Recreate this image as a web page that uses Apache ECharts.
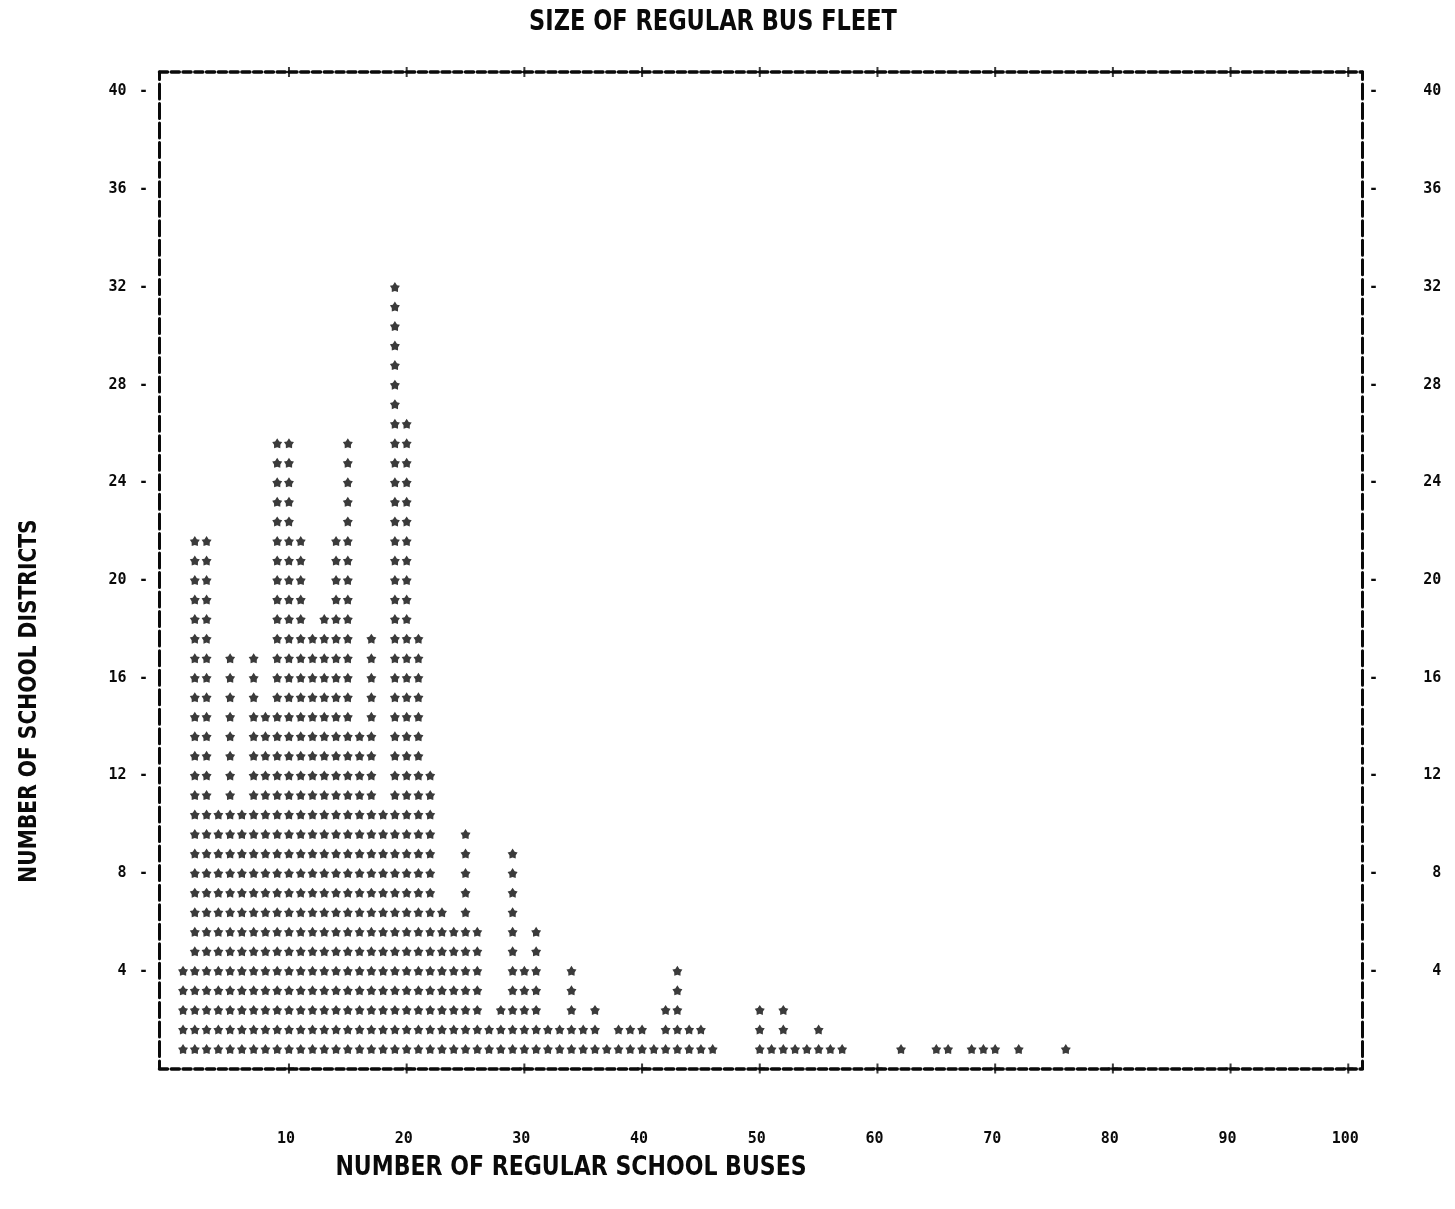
<!DOCTYPE html>
<html>
<head>
<meta charset="utf-8">
<script src="https://cdn.jsdelivr.net/npm/echarts@6/dist/echarts.min.js"></script>
<style>html,body{margin:0;padding:0;background:#fff}#chart{width:1455px;height:1209px}</style>
</head>
<body>
<div id="chart"></div>
<script>
// Number of regular school buses (x) for each printed column
const busCounts = [
  1,2,3,4,5,6,7,8,9,10,11,12,13,14,15,16,17,18,19,20,
  21,22,23,24,25,26,27,28,29,30,31,32,33,34,35,36,37,38,39,40,
  41,42,43,44,45,46,50,51,52,53,54,55,56,57,62,65,66,68,69,70,72,76
];
// Number of printed asterisk rows in each column (one row = 0.8 districts on the axis)
const starRows = [
  5,27,27,13,21,13,21,18,32,32,27,22,23,27,32,17,22,13,40,33,
  22,15,8,7,12,7,2,3,11,5,7,2,2,5,2,3,1,2,2,2,
  1,3,5,2,2,1,3,1,3,1,1,2,1,1,1,1,1,1,1,1,1,1
];
const ROW_VALUE = 0.8;
const xTickLabels = [10,20,30,40,50,60,70,80,90,100];
const yTickLabels = [4,8,12,16,20,24,28,32,36,40];

const Y_MAX = 40.8;
const X_MIN = -1, X_MAX = 101.2;
const INK = '#0a0a0a';
const MONO = "'DejaVu Sans Mono','Liberation Mono',monospace";
const NARROW = "'Liberation Sans Narrow','DejaVu Sans Condensed','Liberation Sans',sans-serif";

const stars = [];
busCounts.forEach((b, i) => {
  for (let k = 1; k <= starRows[i]; k++) stars.push([b, k * ROW_VALUE]);
});
const plusMarks = [];
xTickLabels.forEach(v => { plusMarks.push([v, 0]); plusMarks.push([v, Y_MAX]); });

const STAR = 'path://M0,-10 L3.9,-4.2 L9.5,-3.1 L6,2 L5.9,8.1 L0,6.2 L-5.9,8.1 L-6,2 L-9.5,-3.1 L-3.9,-4.2 Z';
const PLUS = 'path://M-2,-10 L2,-10 L2,-2 L10,-2 L10,2 L2,2 L2,10 L-2,10 L-2,2 L-10,2 L-10,-2 L-2,-2 Z';

function yLabelVal(v) {
  const r = Math.round(v / ROW_VALUE);
  const lab = Math.round(v);
  return (r > 0 && r % 5 === 0 && yTickLabels.indexOf(lab) >= 0) ? lab : null;
}

const labelFont = { fontFamily: MONO, fontWeight: 'bold', fontSize: 15, color: INK };
const borderX = { color: INK, width: 3.5, type: [8, 3.77] };
const borderY = { color: INK, width: 3, type: [15, 4.54], dashOffset: 7.5 };

const chart = echarts.init(document.getElementById('chart'));
chart.setOption({
  animation: false,
  backgroundColor: '#ffffff',
  grid: { left: 159.5, right: 92.6, top: 72, bottom: 140.5 },
  xAxis: [{
    type: 'value', min: X_MIN, max: X_MAX, interval: 1,
    splitLine: { show: false },
    axisTick: { show: false },
    axisLine: { show: true, onZero: false, lineStyle: borderX },
    axisLabel: Object.assign({
      margin: 63, padding: [0, 6, 0, 0],
      formatter: v => { const r = Math.round(v); return (xTickLabels.indexOf(r) >= 0 && Math.abs(v - r) < 1e-6) ? String(r) : ''; }
    }, labelFont)
  }, {
    type: 'value', position: 'top', min: X_MIN, max: X_MAX, interval: 1,
    splitLine: { show: false }, axisTick: { show: false }, axisLabel: { show: false },
    axisLine: { show: true, onZero: false, lineStyle: borderX }
  }],
  yAxis: [{
    type: 'value', min: 0, max: Y_MAX, interval: ROW_VALUE, position: 'left',
    splitLine: { show: false }, axisTick: { show: false },
    axisLine: { show: true, onZero: false, lineStyle: borderY },
    axisLabel: Object.assign({
      margin: 7,
      formatter: v => { const l = yLabelVal(v); return l === null ? '' : '{n|' + l + '}{d|-}'; },
      rich: {
        n: Object.assign({ padding: [0, 8, 0, 0] }, labelFont),
        d: Object.assign({ width: 18, align: 'center' }, labelFont)
      }
    }, labelFont)
  }, {
    type: 'value', min: 0, max: Y_MAX, interval: ROW_VALUE, position: 'right',
    splitLine: { show: false }, axisTick: { show: false },
    axisLine: { show: true, onZero: false, lineStyle: borderY },
    axisLabel: Object.assign({
      margin: 3,
      formatter: v => { const l = yLabelVal(v); return l === null ? '' : '{d|-}{n|' + l + '}'; },
      rich: {
        d: Object.assign({ width: 16, align: 'center' }, labelFont),
        n: Object.assign({ width: 60, align: 'right' }, labelFont)
      }
    }, labelFont)
  }],
  series: [{
    name: 'districts', type: 'scatter', xAxisIndex: 0, yAxisIndex: 0,
    data: stars, symbol: STAR, symbolSize: [10, 10],
    itemStyle: { color: INK }, silent: true, clip: false
  }, {
    name: 'ticks', type: 'scatter', xAxisIndex: 0, yAxisIndex: 0,
    data: plusMarks, symbol: PLUS, symbolSize: [10, 10],
    itemStyle: { color: INK }, silent: true, clip: false
  }],
  graphic: [{
    type: 'text', x: 713, y: 23, scaleY: 1.12,
    style: { text: 'SIZE OF REGULAR BUS FLEET', fontFamily: NARROW, fontWeight: 'bold', fontSize: 25, fill: INK, textAlign: 'center', textVerticalAlign: 'middle' }
  }, {
    type: 'text', x: 571, y: 1168, scaleY: 1.12,
    style: { text: 'NUMBER OF REGULAR SCHOOL BUSES', fontFamily: NARROW, fontWeight: 'bold', fontSize: 24.5, fill: INK, textAlign: 'center', textVerticalAlign: 'middle' }
  }, {
    type: 'text', x: 29, y: 701, rotation: Math.PI / 2, scaleY: 1.12,
    style: { text: 'NUMBER OF SCHOOL DISTRICTS', fontFamily: NARROW, fontWeight: 'bold', fontSize: 22.5, fill: INK, textAlign: 'center', textVerticalAlign: 'middle' }
  }]
});
</script>
</body>
</html>
